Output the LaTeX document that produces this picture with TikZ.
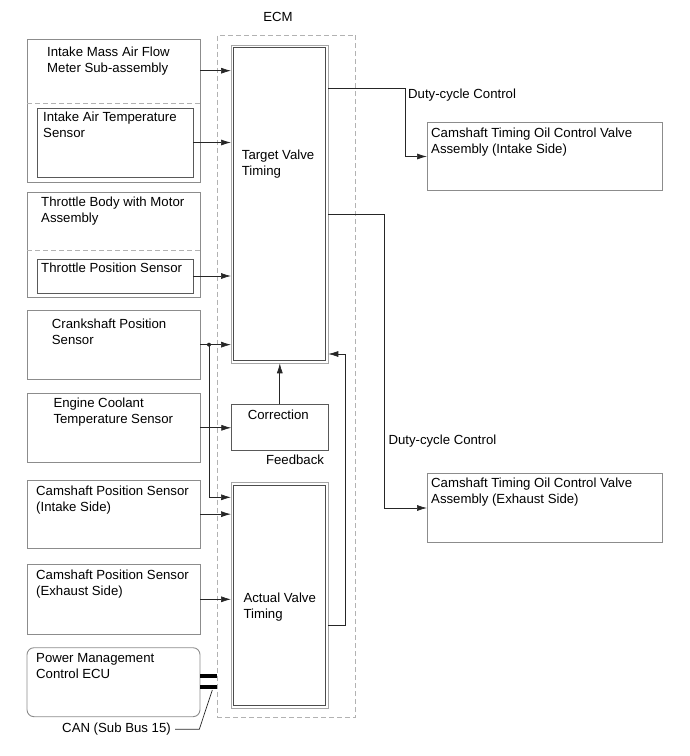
\documentclass[tikz,border=0pt]{standalone}
\usepackage{fontspec}
\setmainfont{Liberation Sans}
\usetikzlibrary{arrows.meta,positioning,fit}

\begin{document}
\begin{tikzpicture}[x=1pt,y=-1pt,
    font=\fontsize{13.2}{16}\selectfont,
    box/.style={draw=black!45, line width=0.9pt, inner sep=0pt, outer sep=0pt},
    subbox/.style={draw=black!65, line width=0.8pt, inner sep=0pt, outer sep=0pt},
    frame/.style={draw=black!35, line width=0.9pt, inner sep=0pt, outer sep=0pt},
    sep/.style={draw=black!30, line width=0.9pt, dash pattern=on 5pt off 3pt, inner sep=0pt},
    txt/.style={anchor=base west, inner sep=0pt, align=left},
    arr/.style={draw=black!85, line width=0.7pt, -{Latex[length=10pt,width=6pt]}},
    wire/.style={draw=black!85, line width=0.7pt},
    bus/.style={draw=black, line width=4.5pt}]
    \useasboundingbox (0,0) rectangle (690,756);

    \node[box, fit={(27,39) (200,182)}] (maf) {};
    \node[subbox, fit={(37,108) (193,177)}] (iat) {};
    \node[box, fit={(27,192) (200,297.7)}] (tb) {};
    \node[subbox, fit={(37,259) (193,293)}] (tps) {};
    \node[box, fit={(27,310) (200,379.3)}] (ckp) {};
    \node[box, fit={(27,393.3) (200,462.3)}] (ect) {};
    \node[box, fit={(27,480) (200,548.3)}] (cmpi) {};
    \node[box, fit={(27,564.3) (200,634.3)}] (cmpe) {};
    \node[box, rounded corners=7pt, fit={(27,647.7) (200,716.7)}] (pmc) {};
    \draw[sep] ([yshift=-64pt]maf.north west) -- ([yshift=-64pt]maf.north east);
    \draw[sep] ([yshift=-58pt]tb.north west) -- ([yshift=-58pt]tb.north east);

    \node[sep, fit={(217.3,35) (355.7,717.7)}] (ecm) {};
    \node (ecmlbl) at (278,17) {ECM};
    \node[frame, fit={(231,45) (328.3,363.3)}] (tvt) {};
    \node[frame, fit={(231,482.7) (328.3,708.3)}] (avt) {};
    \foreach \n in {tvt,avt}
        \draw[black!70, line width=0.7pt] ([shift={(2.6,2.6)}]\n.north west) rectangle ([shift={(-2.6,-2.6)}]\n.south east);
    \node[subbox, fit={(231.3,404.3) (328.3,450.7)}] (corr) {};
    \node[box, fit={(427,122.3) (662.7,190.7)}] (ocvi) {};
    \node[box, fit={(427,473.3) (662.7,542.7)}] (ocve) {};

    % two-line texts are placed by their second baseline
    \node[txt] (maftxt) at (47,72.4) {Intake Mass Air Flow\\Meter Sub-assembly};
    \node[txt] (iattxt) at (43,137.7) {Intake Air Temperature\\Sensor};
    \node[txt] (tbtxt) at (41,222.7) {Throttle Body with Motor\\Assembly};
    \node[txt] (tpstxt) at (41,272.7) {Throttle Position Sensor};
    \node[txt] (ckptxt) at (51.7,344) {Crankshaft Position\\Sensor};
    \node[txt] (ecttxt) at (53.3,423.4) {Engine Coolant\\Temperature Sensor};
    \node[txt] (cmpitxt) at (36,511.4) {Camshaft Position Sensor\\(Intake Side)};
    \node[txt] (cmpetxt) at (36,595) {Camshaft Position Sensor\\(Exhaust Side)};
    \node[txt] (pmctxt) at (36,678.5) {Power Management\\Control ECU};
    \node[txt] (tvttxt) at (241.7,175.2) {Target Valve\\Timing};
    \node[txt] (avttxt) at (243.3,618) {Actual Valve\\Timing};
    \node[anchor=base, inner sep=0pt] (corrtxt) at (278.3,419) {Correction};
    \node[anchor=base, inner sep=0pt] (fb) at (295,464) {Feedback};
    \node[txt] (duty1) at (408,98) {Duty-cycle Control};
    \node[txt] (duty2) at (388.3,444) {Duty-cycle Control};
    \node[txt] (ocvitxt) at (431,153) {Camshaft Timing Oil Control Valve\\Assembly (Intake Side)};
    \node[txt] (ocvetxt) at (431,503.5) {Camshaft Timing Oil Control Valve\\Assembly (Exhaust Side)};
    \node[anchor=east, inner sep=4pt] (can) at (175,729.3) {CAN (Sub Bus 15)};

    \coordinate (m1) at ([yshift=-31.7pt]maf.north east);
    \draw[arr] (m1) -- (m1 -| tvt.west);
    \draw[arr] (iat.east) -- (iat.east -| tvt.west);
    \draw[arr] (tps.east) -- (tps.east -| tvt.west);
    \draw[arr] (ckp.east) -- (ckp.east -| tvt.west);
    \coordinate (dot) at ([xshift=9pt]ckp.east);
    \fill[black!85] (dot) circle (2pt);
    \draw[arr] (dot) |- ([yshift=-14.6pt]avt.north west);
    \draw[arr] (ect.east) -- (ect.east -| corr.west);
    \draw[arr] (corr.north) -- (corr.north |- tvt.south);
    \draw[arr] (cmpi.east) -- (cmpi.east -| avt.west);
    \draw[arr] (cmpe.east) -- (cmpe.east -| avt.west);
    \draw[arr] ([yshift=83.3pt]avt.south east) -- ++(17.4,0) |- ([yshift=9.3pt]tvt.south east);
    \draw[arr] ([yshift=-43pt]tvt.north east) -- ++(76.7,0) |- (ocvi.west);
    \draw[arr] ([yshift=-169pt]tvt.north east) -- ++(55.7,0) |- (ocve.west);

    \draw[bus] ([yshift=-28.3pt]pmc.north east) -- ++(17.3,0);
    \draw[bus] ([yshift=-39.3pt]pmc.north east) -- ++(17.3,0);
    \coordinate (busend) at (212.3,690);
    \draw[wire] (busend) -- (199.3,729.3) -- (can.east);
\end{tikzpicture}
\end{document}
